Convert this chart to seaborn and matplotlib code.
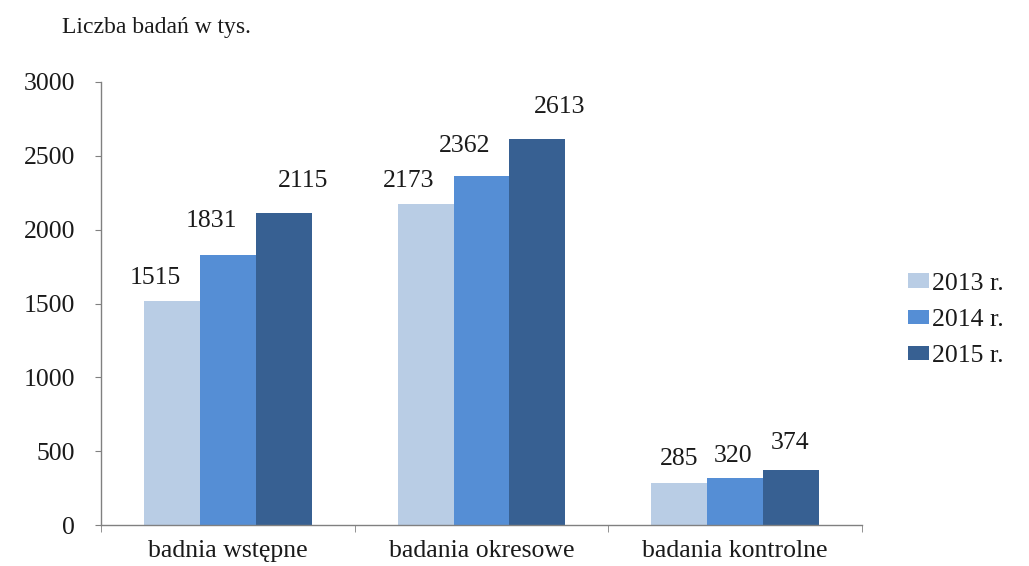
import matplotlib
matplotlib.use("Agg")
import matplotlib.pyplot as plt
import seaborn as sns
import pandas as pd
from matplotlib.ticker import FixedLocator

categories = ["badnia wstępne", "badania okresowe", "badania kontrolne"]
years = ["2013 r.", "2014 r.", "2015 r."]
v2013 = [1515, 2173, 285]
v2014 = [1831, 2362, 320]
v2015 = [2115, 2613, 374]
colors = ["#B9CDE5", "#558ED5", "#376092"]

# label offsets (points) per series, per category: style only
label_dx = [[-12, -12, 0], [-12, -12, -1.5], [14, 16, -1]]
label_dy = [[16.5, 17, 17], [24, 22, 16], [23, 23, 19]]

rows = []
for yr, vals in zip(years, [v2013, v2014, v2015]):
    for c, v in zip(categories, vals):
        rows.append({"kategoria": c, "rok": yr, "wartosc": v})
df = pd.DataFrame(rows)

sns.set_style("white")
plt.rcParams["font.family"] = ["Liberation Serif", "DejaVu Serif"]
FS = 18.5
TXT = "#1a1a1a"

fig = plt.figure(figsize=(10.29, 5.66), dpi=100)
ax = fig.add_axes([101 / 1029, 1 - 525 / 566, 761 / 1029, 443 / 566])

sns.barplot(data=df, x="kategoria", y="wartosc", hue="rok", order=categories,
            hue_order=years, palette=colors, saturation=1, width=0.66,
            linewidth=0, ax=ax, errorbar=None)

for si, cont in enumerate(ax.containers):
    for ci, bar in enumerate(cont):
        h = bar.get_height()
        ax.annotate(f"{int(round(h))}", xy=(bar.get_x() + bar.get_width() / 2, h),
                    xytext=(label_dx[si][ci], label_dy[si][ci]), textcoords="offset points",
                    ha="center", va="center", fontsize=FS, color=TXT)

ax.set_ylim(0, 3000)
ax.set_xlim(-0.5, 2.5)
ax.set_yticks(range(0, 3001, 500))
ax.set_xlabel("")
ax.set_ylabel("")
ax.tick_params(axis="y", labelsize=FS, length=4.5, color="#808080", direction="out", left=True, pad=14)
ax.tick_params(axis="x", which="major", labelsize=FS, length=0, pad=11)
ax.xaxis.set_minor_locator(FixedLocator([-0.5, 0.5, 1.5, 2.5]))
ax.tick_params(axis="x", which="minor", length=5, color="#808080", direction="out", bottom=True)
for lab in ax.get_yticklabels() + ax.get_xticklabels():
    lab.set_color(TXT)
for s in ["top", "right"]:
    ax.spines[s].set_visible(False)
for s in ["left", "bottom"]:
    ax.spines[s].set_color("#808080")
    ax.spines[s].set_linewidth(1)

leg = ax.legend(loc="center left", bbox_to_anchor=(908 / 1029, 1 - 320 / 566),
                bbox_transform=fig.transFigure, frameon=False, borderpad=0, borderaxespad=0,
                fontsize=FS, handlelength=0.8, handleheight=0.5, handletextpad=0.15,
                labelspacing=0.55)
for t in leg.get_texts():
    t.set_color(TXT)

fig.text(62 / 1029, 1 - 28 / 566, "Liczba badań w tys.", fontsize=17, ha="left", va="center", color=TXT)

fig.savefig("out.png", dpi=100)
